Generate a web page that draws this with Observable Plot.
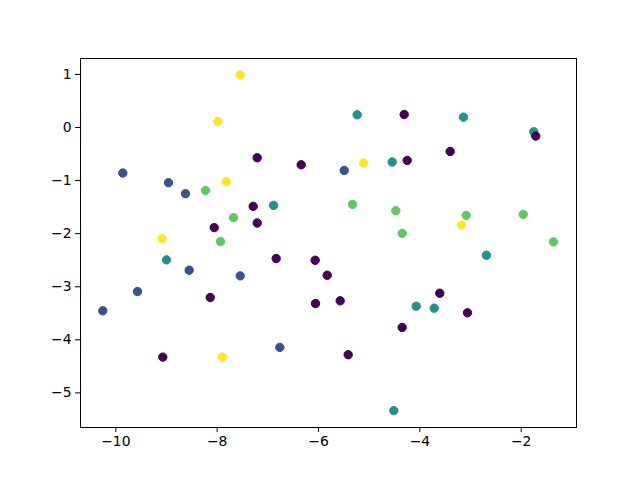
<!DOCTYPE html>
<html>
<head>
<meta charset="utf-8">
<script src="https://cdn.jsdelivr.net/npm/d3@7"></script>
<script src="https://cdn.jsdelivr.net/npm/@observablehq/plot@0.6"></script>
<style>
  html, body { margin: 0; padding: 0; background: #fff; }
  #chart svg { display: block; }
</style>
</head>
<body>
<div id="chart"></div>
<script>
const xValues = [
  -7.545, -7.987, -7.210, -6.342, -9.862, -8.960, -8.625, -8.230, -7.822, -7.289,
  -6.888, -7.678, -7.210, -8.058, -9.085, -7.934,
  -5.237, -4.309, -3.139, -1.752, -1.713, -3.402, -5.493, -5.112, -4.546, -4.250,
  -5.330, -4.475, -3.086, -1.961, -3.179, -4.349, -1.363,
  -9.000, -8.552, -6.835, -6.066, -5.829, -7.545, -9.572, -8.137, -6.060, -10.257,
  -9.073, -7.895, -6.764,
  -2.686, -3.607, -5.572, -4.073, -3.717, -3.060, -4.349, -5.414, -4.515
];
const yValues = [
  0.991, 0.113, -0.570, -0.702, -0.858, -1.040, -1.247, -1.185, -1.021, -1.486,
  -1.467, -1.698, -1.798, -1.886, -2.093, -2.150,
  0.239, 0.245, 0.195, -0.081, -0.162, -0.451, -0.809, -0.670, -0.651, -0.620,
  -1.448, -1.567, -1.655, -1.636, -1.836, -1.994, -2.155,
  -2.494, -2.689, -2.469, -2.501, -2.784, -2.795, -3.090, -3.203, -3.316, -3.453,
  -4.326, -4.326, -4.143,
  -2.407, -3.122, -3.265, -3.367, -3.404, -3.491, -3.767, -4.281, -5.334
];
const classes = [
  4, 4, 0, 0, 1, 1, 1, 3, 4, 0,
  2, 3, 0, 0, 4, 3,
  2, 0, 2, 2, 0, 0, 1, 4, 2, 0,
  3, 3, 3, 3, 4, 3, 3,
  2, 1, 0, 0, 0, 1, 1, 0, 0, 1,
  0, 4, 1,
  2, 0, 0, 2, 2, 0, 0, 0, 2
];
const palette = ["#440154", "#3b528b", "#21918c", "#5ec962", "#fde725"];
const xTicks = [-10, -8, -6, -4, -2];
const yTicks = [1, 0, -1, -2, -3, -4, -5];

const data = xValues.map((x, i) => ({x, y: yValues[i], c: classes[i]}));
const fmt = d3.format("d");

const chart = Plot.plot({
  width: 640,
  height: 480,
  marginLeft: 80,
  marginRight: 64,
  marginTop: 58,
  marginBottom: 53,
  style: {fontFamily: "DejaVu Sans", fontSize: "13.9px", color: "#000", background: "#fff"},
  x: {domain: [-10.697, -0.909], label: null},
  y: {domain: [-5.652, 1.300], label: null},
  color: {type: "ordinal", domain: [0, 1, 2, 3, 4], range: palette},
  marks: [
    Plot.frame({stroke: "#000", strokeWidth: 1}),
    Plot.axisX({ticks: xTicks, tickFormat: fmt, tickSize: 5, tickPadding: 4, label: null, stroke: "#000", color: "#000"}),
    Plot.axisY({ticks: yTicks, tickFormat: fmt, tickSize: 5, tickPadding: 4, label: null, stroke: "#000", color: "#000"}),
    Plot.dot(data, {x: "x", y: "y", fill: "c", stroke: "c", strokeWidth: 1, r: 4.2})
  ]
});
document.getElementById("chart").appendChild(chart);
</script>
</body>
</html>
